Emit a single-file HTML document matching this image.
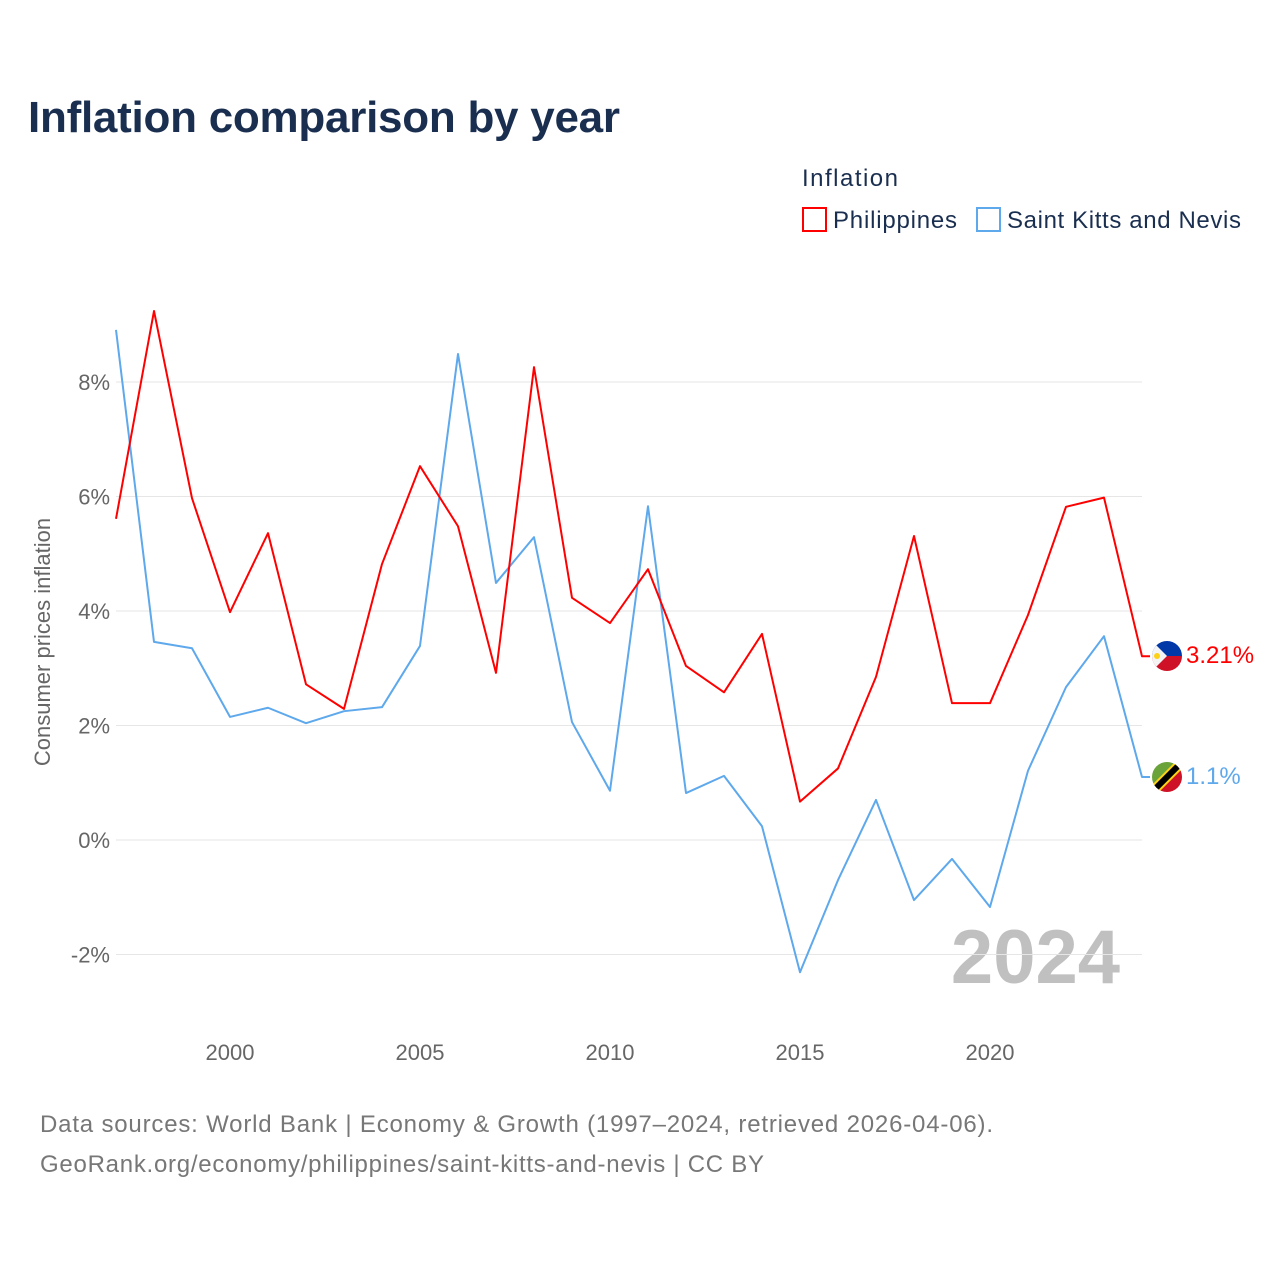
<!DOCTYPE html>
<html><head><meta charset="utf-8"><style>
body{margin:0;background:#fff;font-family:"Liberation Sans",sans-serif;}
</style></head><body>
<svg width="1280" height="1280" xmlns="http://www.w3.org/2000/svg" id="chart" font-family="Liberation Sans, sans-serif">
<rect width="1280" height="1280" fill="#fff"/>
<text x="28" y="132" font-size="44" font-weight="bold" fill="#1a2e4f" textLength="592">Inflation comparison by year</text>
<text x="802" y="186" font-size="24" fill="#1a2e4f" textLength="96">Inflation</text>
<g><rect x="803" y="208" width="23" height="23" fill="none" stroke="#f00" stroke-width="2"/><text x="833" y="228" font-size="24" fill="#1a2e4f" textLength="124">Philippines</text></g>
<g><rect x="977" y="208" width="23" height="23" fill="none" stroke="#5ea8ec" stroke-width="2"/><text x="1007" y="228" font-size="24" fill="#1a2e4f" textLength="234">Saint Kitts and Nevis</text></g>
<text transform="translate(50,642) rotate(-90)" text-anchor="middle" font-size="22" fill="#666">Consumer prices inflation</text>
<text x="1120" y="983" text-anchor="end" font-size="76" font-weight="bold" fill="#c0c0c0">2024</text>
<g id="grid"></g><g id="lines"></g>
<g>
<clipPath id="c1"><circle cx="1167" cy="656" r="15"/></clipPath>
<g clip-path="url(#c1)"><rect x="1152" y="641" width="30" height="15" fill="#0038a8"/><rect x="1152" y="656" width="30" height="15" fill="#ce1126"/><polygon points="1152,641 1167,656 1152,671" fill="#f4f4f4"/><circle cx="1157" cy="656" r="3" fill="#fcd116"/></g></g>
<g>
<clipPath id="c2"><circle cx="1167" cy="777" r="15"/></clipPath>
<g clip-path="url(#c2)"><polygon points="1152,762 1182,762 1152,792" fill="#6aa33a"/><polygon points="1182,762 1182,792 1152,792" fill="#ce1126"/><line x1="1154" y1="790" x2="1180" y2="764" stroke="#fcd116" stroke-width="10"/><line x1="1154" y1="790" x2="1180" y2="764" stroke="#000" stroke-width="6"/></g></g>
<text x="1186" y="663" font-size="24" fill="#f00">3.21%</text>
<text x="1186" y="784" font-size="24" fill="#5ea8ec">1.1%</text>
<text x="40" y="1132" font-size="24" fill="#777" textLength="953">Data sources: World Bank | Economy &amp; Growth (1997–2024, retrieved 2026-04-06).</text>
<text x="40" y="1172" font-size="24" fill="#777" textLength="724">GeoRank.org/economy/philippines/saint-kitts-and-nevis | CC BY</text>
</svg>
<script>
const years=[1997,1998,1999,2000,2001,2002,2003,2004,2005,2006,2007,2008,2009,2010,2011,2012,2013,2014,2015,2016,2017,2018,2019,2020,2021,2022,2023,2024];
const philippines=[5.61,9.24,5.97,3.98,5.36,2.72,2.29,4.82,6.53,5.48,2.92,8.26,4.23,3.79,4.73,3.04,2.58,3.60,0.67,1.25,2.85,5.31,2.39,2.39,3.93,5.82,5.98,3.21];
const saintKitts=[8.91,3.46,3.35,2.15,2.31,2.04,2.25,2.32,3.39,8.49,4.49,5.29,2.06,0.86,5.83,0.82,1.12,0.24,-2.31,-0.70,0.70,-1.05,-0.33,-1.17,1.21,2.67,3.56,1.10];
const yTicks=[-2,0,2,4,6,8];
const xTicks=[2000,2005,2010,2015,2020];
const NS='http://www.w3.org/2000/svg';
const xS=y=>116+(y-1997)*38;
const yS=v=>840-v*57.25;
const grid=document.getElementById('grid'),lines=document.getElementById('lines');
function mk(tag,attrs,parent){const e=document.createElementNS(NS,tag);for(const k in attrs)e.setAttribute(k,attrs[k]);parent.appendChild(e);return e;}
yTicks.forEach(t=>{
 const l=mk('line',{x1:116,x2:1142,y1:yS(t),y2:yS(t),stroke:'#e6e6e6','stroke-width':1},grid);
 
 
 const tx=mk('text',{x:110,y:yS(t)+8,'text-anchor':'end','font-size':22,fill:'#666'},grid);
 tx.textContent=t+'%';
 
 
});
xTicks.forEach(t=>{
 const tx=mk('text',{x:xS(t),y:1060,'text-anchor':'middle','font-size':22,fill:'#666'},grid);
 tx.textContent=t;
 
 
});
function line(vals,color,name){
 let d=vals.map((v,i)=>(i?'L':'M')+xS(years[i])+','+yS(v)).join(' ');
 d+=' L'+(xS(years[years.length-1])+8)+','+yS(vals[vals.length-1]);
 const p=mk('path',{d:d,fill:'none',stroke:color,'stroke-width':2,'stroke-linejoin':'round'},lines);
 
 
}
line(saintKitts,'#5ea8ec','line-saint-kitts');
line(philippines,'#f00','line-philippines');
</script>
</body></html>
